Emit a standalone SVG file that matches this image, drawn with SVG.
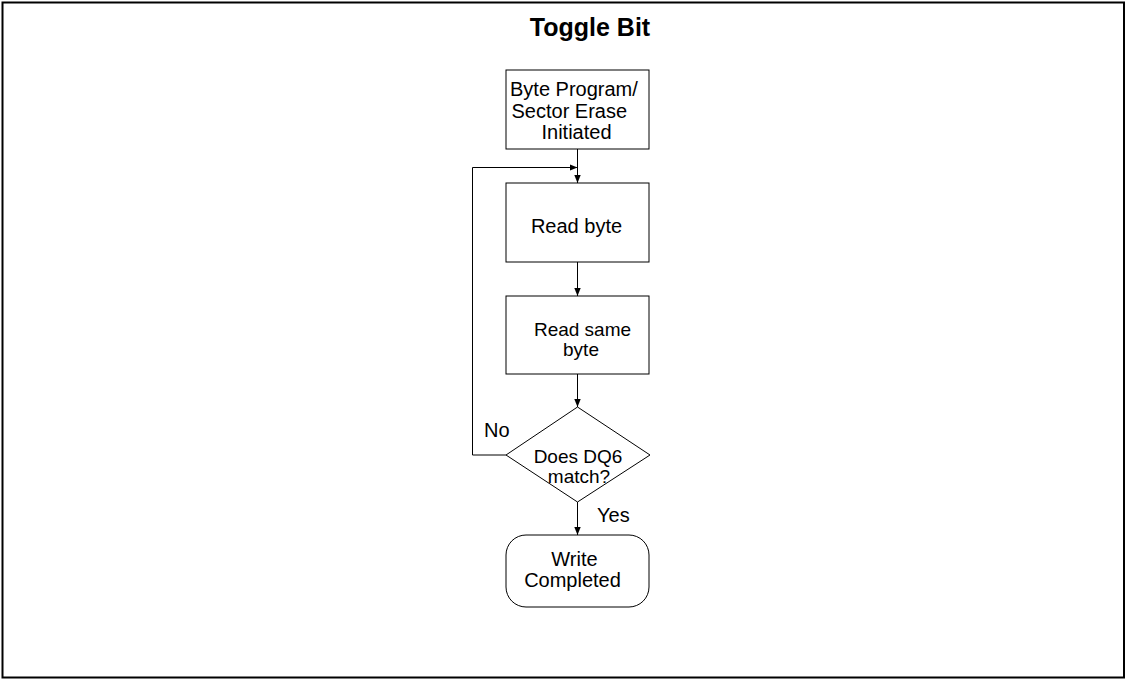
<svg xmlns="http://www.w3.org/2000/svg" width="1128" height="680" viewBox="0 0 1128 680">
<style>
.frame{fill:#fff;stroke:#000;stroke-width:2}
.node{fill:#fff;stroke:#000;stroke-width:1}
.t{font-family:"Liberation Sans",Arial,sans-serif;font-size:20px;fill:#000}
.s{font-size:19px}
.title{font-family:"Liberation Sans",Arial,sans-serif;font-size:25px;font-weight:bold;fill:#000}
.c{text-anchor:middle}
.edge{fill:none;stroke:#000;stroke-width:1}
</style>
<defs>
<marker id="arr" viewBox="0 0 10 10" refX="10" refY="5" markerWidth="8" markerHeight="8" markerUnits="userSpaceOnUse" orient="auto">
<path d="M0,1 L10,5 L0,9 Z" fill="#000"/>
</marker>
</defs>
<rect x="0" y="0" width="1128" height="680" fill="#fff"/>
<rect class="frame" x="2.5" y="2.5" width="1121.5" height="675"/>
<text class="title c" x="590" y="35.5">Toggle Bit</text>
<g id="connectors">
<line class="edge" x1="577.5" y1="149" x2="577.5" y2="183" marker-end="url(#arr)"/>
<polyline class="edge" points="506,455 472.5,455 472.5,167.5 577.5,167.5" marker-end="url(#arr)"/>
<line class="edge" x1="577.5" y1="262" x2="577.5" y2="296" marker-end="url(#arr)"/>
<line class="edge" x1="577.5" y1="374" x2="577.5" y2="407" marker-end="url(#arr)"/>
<line class="edge" x1="577.5" y1="502" x2="577.5" y2="535" marker-end="url(#arr)"/>
<text class="t" x="484" y="437">No</text>
<text class="t" x="597" y="522">Yes</text>
</g>
<g id="start">
<rect class="node" x="506" y="70" width="143" height="79"/>
<text class="t" x="510" y="96">Byte Program/</text>
<text class="t" x="511.5" y="117.5">Sector Erase</text>
<text class="t" x="541.5" y="139">Initiated</text>
</g>
<g id="read1">
<rect class="node" x="506" y="183" width="143" height="79"/>
<text class="t c" x="576.5" y="232.5">Read byte</text>
</g>
<g id="read2">
<rect class="node" x="506" y="296" width="143" height="78"/>
<text class="t s c" x="582.5" y="336">Read same</text>
<text class="t s c" x="581" y="356">byte</text>
</g>
<g id="decision">
<polygon class="node" points="577.5,407 650,455 577.5,502 506,455"/>
<text class="t s c" x="578" y="463">Does DQ6</text>
<text class="t s c" x="579" y="483">match?</text>
</g>
<g id="end">
<rect class="node" x="506" y="535" width="143" height="72" rx="20" ry="20"/>
<text class="t c" x="574.5" y="566">Write</text>
<text class="t c" x="572.5" y="587">Completed</text>
</g>
</svg>
